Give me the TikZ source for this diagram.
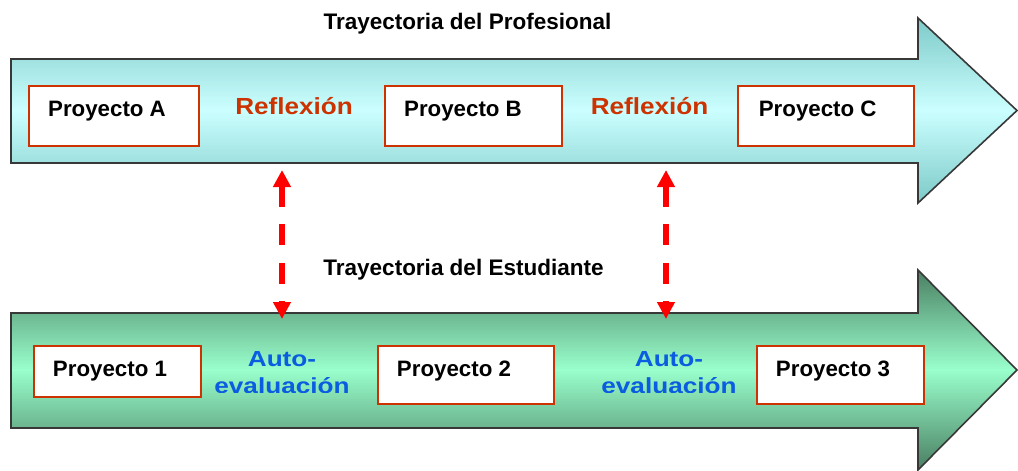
\documentclass[tikz,border=0pt]{standalone}
\usepackage{fontspec}
\setmainfont{Liberation Sans}
\newfontfamily\reflfont[FakeStretch=1.12]{Liberation Sans}
\newfontfamily\autofont[FakeStretch=1.2]{Liberation Sans}
\usetikzlibrary{arrows.meta}
\definecolor{boxred}{HTML}{CC3300}
\definecolor{reflcol}{HTML}{CC3300}
\definecolor{autocol}{HTML}{0A5CE0}
\definecolor{outl}{HTML}{383838}
\definecolor{cyandark}{HTML}{7CCAC8}
\definecolor{cyanlight}{HTML}{CCFFFF}
\definecolor{greendark}{HTML}{4A7F62}
\definecolor{greenlight}{HTML}{99FFCC}
\tikzset{
  bigarrow/.style={draw=outl, line width=1.6pt, line join=miter},
  projbox/.style={draw=boxred, fill=white, line width=2pt, inner sep=0pt, anchor=north west},
  ptext/.style={font=\fontsize{22.3}{26}\selectfont\bfseries, anchor=base, inner sep=0pt},
  ttext/.style={font=\fontsize{22.5}{26}\selectfont\bfseries, anchor=base, inner sep=0pt},
  rtext/.style={font=\reflfont\fontsize{23.3}{26}\selectfont\bfseries, text=reflcol, anchor=base, inner sep=0pt},
  atext/.style={font=\autofont\fontsize{21.8}{26.5}\selectfont\bfseries, text=autocol, anchor=north, inner sep=0pt, align=center},
  linkarrow/.style={draw=red, line width=6pt, dash pattern=on 21pt off 17.5pt, {Triangle[length=17pt,width=17pt]}-{Triangle[length=17pt,width=17pt]}}
}
\begin{document}
\begin{tikzpicture}[x=1pt,y=-1pt]
\useasboundingbox (0,0) rectangle (1018,471);
% top arrow (gradient by strips)
\begin{scope}
\clip (11,59) -- (918,59) -- (918,18) -- (1017,110.5) -- (918,203) -- (918,163) -- (11,163) -- cycle;
\foreach \i in {0,...,93} {
  \pgfmathsetmacro\yy{17+2*\i}
  \pgfmathsetmacro\pp{max(0,100-abs(\yy+1-110.5)/92.5*100)}
  \fill[cyanlight!\pp!cyandark] (0,\yy) rectangle (1018,\yy+2.4);
}
\end{scope}
\path[bigarrow]
  (11,59) -- (918,59) -- (918,18) -- (1017,110.5) -- (918,203) -- (918,163) -- (11,163) -- cycle;
% bottom arrow (gradient by strips)
\begin{scope}
\clip (11,313) -- (918,313) -- (918,270) -- (1017,370) -- (918,470) -- (918,428) -- (11,428) -- cycle;
\foreach \i in {0,...,101} {
  \pgfmathsetmacro\yy{269+2*\i}
  \pgfmathsetmacro\pp{max(0,100-abs(\yy+1-370)/100*100)}
  \fill[greenlight!\pp!greendark] (0,\yy) rectangle (1018,\yy+2.4);
}
\end{scope}
\path[bigarrow]
  (11,313) -- (918,313) -- (918,270) -- (1017,370) -- (918,470) -- (918,428) -- (11,428) -- cycle;
% titles
\node[ttext] (tprof) at (467.5,30) {Trayectoria del Profesional};
\node[ttext] (testu) at (463.5,275) {Trayectoria del Estudiante};
% top boxes
\node[projbox, minimum width=170pt, minimum height=60pt] (bA) at (28.3,85) {};
\node[projbox, minimum width=177pt, minimum height=60pt] (bB) at (384,85) {};
\node[projbox, minimum width=176.6pt, minimum height=60pt] (bC) at (736.7,85) {};
\node[ptext] (tA) at (107,116.7) {Proyecto A};
\node[ptext] (tB) at (463,116.7) {Proyecto B};
\node[ptext] (tC) at (817.7,116.7) {Proyecto C};
\node[rtext] (r1) at (294,114) {Reflexión};
\node[rtext] (r2) at (649.5,114) {Reflexión};
% bottom boxes
\node[projbox, minimum width=166.7pt, minimum height=50.7pt] (b1) at (33.3,345) {};
\node[projbox, minimum width=176.6pt, minimum height=58.3pt] (b2) at (376.7,345) {};
\node[projbox, minimum width=166.7pt, minimum height=58.3pt] (b3) at (756,345) {};
\node[ptext] (t1) at (110,376.7) {Proyecto 1};
\node[ptext] (t2) at (454,376.7) {Proyecto 2};
\node[ptext] (t3) at (833,376.7) {Proyecto 3};
\begin{scope}
\clip (190,330) rectangle (760,392.3);
\node[atext] (a1) at (282,351.5) {Auto-\\evaluación};
\node[atext] (a2) at (669,351.5) {Auto-\\evaluación};
\end{scope}
% link arrows
\coordinate (l1top) at (282,170);
\coordinate (l1bot) at (282,319);
\coordinate (l2top) at (666,170);
\coordinate (l2bot) at (666,319);
\draw[linkarrow] (l1top) -- (l1bot);
\draw[linkarrow] (l2top) -- (l2bot);
\end{tikzpicture}
\end{document}
